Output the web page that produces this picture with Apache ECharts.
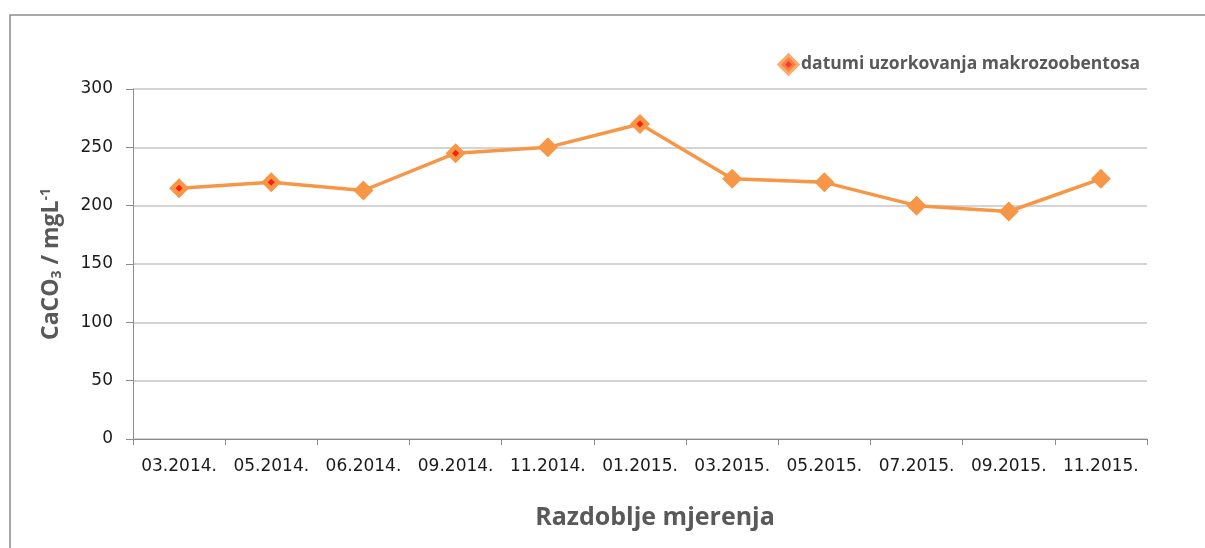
<!DOCTYPE html>
<html>
<head>
<meta charset="utf-8">
<script src="https://cdn.jsdelivr.net/npm/echarts@6/dist/echarts.min.js"></script>
<style>
  html, body { margin: 0; padding: 0; background: #fff; }
  #chart { width: 1205px; height: 548px; }
</style>
</head>
<body>
<div id="chart"></div>
<script>
// CaCO3 po razdobljima mjerenja
const categories = ['03.2014.', '05.2014.', '06.2014.', '09.2014.', '11.2014.', '01.2015.',
    '03.2015.', '05.2015.', '07.2015.', '09.2015.', '11.2015.'];
const caco3 = [215, 220, 213, 245, 250, 270, 223, 220, 200, 195, 223];
const sampleDates = ['03.2014.', '05.2014.', '09.2014.', '01.2015.'];
const yTicks = [0, 50, 100, 150, 200, 250, 300];

const orange = '#F79646';
const sampleData = categories.map((c, i) => sampleDates.includes(c) ? caco3[i] : null);

const chart = echarts.init(document.getElementById('chart'));
chart.setOption({
    animation: false,
    graphic: [{
        type: 'rect',
        shape: { x: 10, y: 15, width: 1400, height: 700 },
        style: { fill: 'none', stroke: '#8c8c8c', lineWidth: 1.5 },
        silent: true
    }],
    grid: { left: 133, right: 58, top: 89, bottom: 109 },
    legend: {
        left: 773, top: 49,
        itemWidth: 15, itemHeight: 15, itemGap: 8,
        textStyle: { fontFamily: 'Open Sans', fontWeight: 'bold', fontSize: 17.5, color: '#595959' },
        data: [{
            name: 'datumi uzorkovanja makrozoobentosa',
            icon: 'diamond',
            itemStyle: { color: '#ff0000', borderColor: orange, borderWidth: 6 }
        }]
    },
    xAxis: {
        type: 'category',
        data: categories,
        boundaryGap: true,
        name: 'Razdoblje mjerenja',
        nameLocation: 'middle',
        nameGap: 66,
        nameTextStyle: { fontFamily: 'Open Sans', fontWeight: 'bold', fontSize: 25, color: '#595959', padding: [0, 0, 0, 30] },
        axisLine: { lineStyle: { color: '#8c8c8c', width: 1 } },
        axisTick: { show: true, length: 6, interval: 0, lineStyle: { color: '#8c8c8c' } },
        axisLabel: { interval: 0, margin: 19, fontFamily: 'DejaVu Sans', fontSize: 17, color: '#1a1a1a' }
    },
    yAxis: {
        type: 'value',
        min: yTicks[0], max: yTicks[yTicks.length - 1], interval: 50,
        name: '{b|CaCO}{sub|3}{b| / mgL}{sup|-1}',
        nameLocation: 'middle',
        nameGap: 69,
        nameRotate: 90,
        nameTextStyle: {
            rich: {
                b: { fontFamily: 'Open Sans', fontWeight: 'bold', fontSize: 23, color: '#595959' },
                sub: { fontFamily: 'Open Sans', fontWeight: 'bold', fontSize: 14, color: '#595959', verticalAlign: 'bottom', padding: [11, 0, 0, 0] },
                sup: { fontFamily: 'Open Sans', fontWeight: 'bold', fontSize: 14, color: '#595959', verticalAlign: 'top', padding: [0, 0, 11, 0] }
            }
        },
        axisLine: { show: true, lineStyle: { color: '#8c8c8c', width: 1 } },
        axisTick: { show: true, length: 7, lineStyle: { color: '#8c8c8c' } },
        axisLabel: { margin: 20, fontFamily: 'DejaVu Sans', fontSize: 17, color: '#1a1a1a' },
        splitLine: { lineStyle: { color: '#c6c6c6', width: 1.5 } }
    },
    series: [{
        name: 'CaCO3',
        type: 'line',
        data: caco3,
        symbol: 'diamond',
        symbolSize: 20,
        itemStyle: { color: orange },
        lineStyle: { color: orange, width: 3.5 },
        z: 2
    }, {
        name: 'datumi uzorkovanja makrozoobentosa',
        type: 'scatter',
        data: sampleData,
        symbol: 'diamond',
        symbolSize: 7,
        itemStyle: { color: '#ff0000' },
        z: 3
    }]
});
window.addEventListener('resize', () => chart.resize());
</script>
</body>
</html>
